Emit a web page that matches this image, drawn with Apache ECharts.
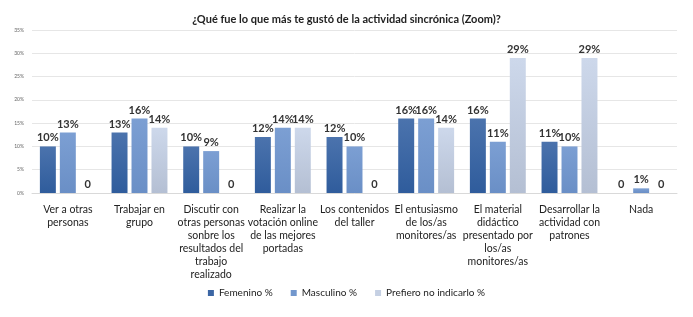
<!DOCTYPE html>
<html><head><meta charset="utf-8">
<script src="https://cdn.jsdelivr.net/npm/echarts@6/dist/echarts.min.js"></script>
<style>html,body{margin:0;padding:0;background:#fff}#c{width:693px;height:317px}</style>
</head><body><div id="c"></div>
<script>
const title = "¿Qué fue lo que más te gustó de la actividad sincrónica (Zoom)?";
const categories = [
  "Ver a otras\npersonas",
  "Trabajar en\ngrupo",
  "Discutir con\notras personas\nsonbre los\nresultados del\ntrabajo\nrealizado",
  "Realizar la\nvotación online\nde las mejores\nportadas",
  "Los contenidos\ndel taller",
  "El entusiasmo\nde los/as\nmonitores/as",
  "El material\ndidáctico\npresentado por\nlos/as\nmonitores/as",
  "Desarrollar la\nactividad con\npatrones",
  "Nada"
];
const seriesNames = ["Femenino %", "Masculino %", "Prefiero no indicarlo %"];
const femenino = [10, 13, 10, 12, 12, 16, 16, 11, 0];
const masculino = [13, 16, 9, 14, 10, 16, 11, 10, 1];
const prefiero = [0, 14, 0, 14, 0, 14, 29, 29, 0];
const yTicks = [0, 5, 10, 15, 20, 25, 30, 35];

const font = "Lato, 'Open Sans', sans-serif";
function grad(top, bottom){
  return new echarts.graphic.LinearGradient(0,0,0,1,[{offset:0,color:top},{offset:1,color:bottom}]);
}
const colors = [grad('#4b73ad','#2f5c9c'), grad('#7c9fd3','#6a8fc6'), grad('#cdd8eb','#b4bfd3')];
const legendColors = ['#3c66a4','#7297cd','#c5d0e3'];
const data = [femenino, masculino, prefiero];
const chart = echarts.init(document.getElementById('c'), null, {renderer:'canvas'});
chart.setOption({
  animation:false,
  title:{text:title,left:'center',top:9,textStyle:{fontFamily:font,fontSize:11,fontWeight:'bold',color:'#222'}},
  grid:{left:32,right:16,top:30,bottom:124,containLabel:false},
  legend:{bottom:14,left:'center',itemWidth:6,itemHeight:6,itemGap:18,icon:'rect',
    textStyle:{fontFamily:font,fontSize:10,color:'#222'},
    data:seriesNames.map((n,i)=>({name:n,itemStyle:{color:legendColors[i]}}))},
  xAxis:{type:'category',data:categories,
    axisLine:{show:true,lineStyle:{color:'#d9d9d9'}},axisTick:{show:false},
    axisLabel:{interval:0,fontFamily:font,fontSize:10.5,color:'#222',lineHeight:13,margin:10}},
  yAxis:{type:'value',min:0,max:35,interval:5,
    axisLabel:{formatter:v=>v+'%',fontFamily:font,fontSize:5,color:'#666',margin:8},
    splitLine:{lineStyle:{color:'#e6e6e6'}},axisLine:{show:false},axisTick:{show:false}},
  series:data.map((d,i)=>({
    name:seriesNames[i],type:'bar',data:d,barGap:'25%',barCategoryGap:'22%',
    itemStyle:{color:colors[i]},
    label:{show:true,position:'top',distance:3,fontFamily:font,fontSize:11,fontWeight:'bold',color:'#333',
      formatter:p=>p.value===0?'0':p.value+'%'}
  }))
});
</script></body></html>
